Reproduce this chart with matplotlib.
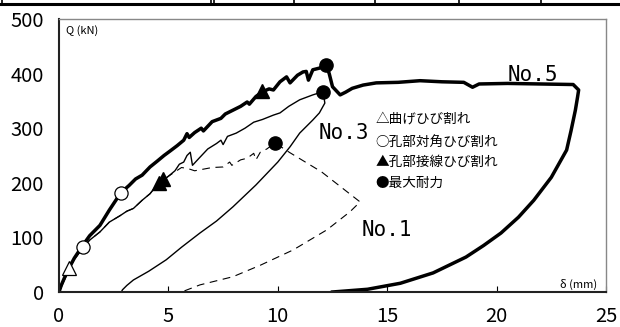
import matplotlib
matplotlib.use("Agg")
import matplotlib.pyplot as plt
from matplotlib.lines import Line2D

plt.rcParams['font.family'] = ['Noto Sans CJK JP', 'DejaVu Sans']

# ---- data ----
no5_x = [0, 0.1, 0.25, 0.46, 0.7, 1.08, 1.4, 1.87, 2.3, 2.83, 3.2, 3.5, 3.8, 4.16, 4.5, 4.8, 5.07,
         5.4, 5.7, 5.85, 5.95, 6.2, 6.5, 6.6, 7.0, 7.4, 7.6, 7.95, 8.3, 8.6, 8.7, 9.0, 9.27, 9.6,
         9.8, 10.1, 10.4, 10.56, 10.9, 11.15, 11.3, 11.4, 11.6, 11.9, 12.2, 12.35, 12.5, 12.85,
         13.1, 13.4, 13.9, 14.5, 15.5, 16.5, 17.5, 18.5, 18.9, 19.2, 20.5, 22.0, 23.5, 23.75,
         23.7, 23.6, 23.4, 23.2, 22.5, 21.7, 21.0, 20.2, 19.4, 18.6, 17.1, 15.6, 14.1, 12.5]
no5_y = [0, 12, 26, 44, 62, 85, 103, 122, 150, 182, 195, 207, 214, 229, 240, 250, 258,
         268, 278, 290, 283, 292, 300, 295, 312, 318, 326, 333, 340, 348, 344, 358, 366, 372,
         370, 385, 394, 383, 397, 403, 404, 388, 407, 410, 416, 400, 376, 361,
         366, 373, 379, 383, 384, 387, 385, 384, 375, 381, 382, 381, 380, 370,
         357, 333, 295, 260, 210, 168, 137, 108, 85, 64, 35, 16, 5, 0]

no3_x = [0, 0.2, 0.46, 0.7, 1.08, 1.4, 1.87, 2.3, 2.8, 3.1, 3.4, 3.8, 4.16, 4.4, 4.7, 5.0, 5.3,
         5.5, 5.7, 5.85, 6.0, 6.1, 6.4, 6.8, 7.2, 7.4, 7.5, 7.7, 8.1, 8.5, 8.9, 9.3, 9.8, 10.1,
         10.5, 11.0, 11.6, 12.07, 12.15, 11.9, 11.6, 11.0, 10.56, 10.0, 9.0, 7.95, 7.2, 6.44,
         5.6, 4.9, 4.1, 3.4, 3.1, 2.9, 2.85]
no3_y = [0, 18, 42, 60, 80, 95, 110, 128, 140, 148, 153, 168, 180, 192, 203, 212, 222,
         234, 238, 250, 256, 232, 245, 262, 272, 278, 270, 285, 291, 300, 311, 316, 324, 328,
         340, 352, 361, 367, 346, 328, 315, 291, 266, 238, 196, 156, 130, 108,
         82, 59, 38, 22, 12, 4, 0]

no1_x = [0, 0.2, 0.46, 0.7, 1.08, 1.4, 1.87, 2.3, 2.8, 3.1, 3.4, 3.8, 4.16, 4.4, 4.7, 5.0, 5.3,
         5.6, 5.9, 6.2, 6.6, 7.0, 7.5, 7.8, 7.9, 8.3, 8.6, 8.9, 9.0, 9.2, 9.5, 9.87, 10.56, 12.0,
         13.76, 13.3, 12.25, 10.7, 9.2, 7.95, 6.44, 5.6]
no1_y = [0, 18, 42, 60, 80, 95, 110, 128, 140, 148, 153, 168, 180, 192, 203, 212, 220,
         228, 226, 222, 225, 228, 229, 238, 232, 242, 245, 254, 242, 256, 262, 273, 255, 220,
         165, 147, 114, 77, 49, 28, 13, 0]

flex_crack_x = [0.46]
flex_crack_y = [44]
diag_crack_x = [1.08, 2.83]
diag_crack_y = [83, 182]
tangent_crack_x = [4.55, 4.75, 9.27]
tangent_crack_y = [200, 207, 368]
max_load_x = [9.87, 12.07, 12.2]
max_load_y = [273, 367, 416]

xticks = [0, 5, 10, 15, 20, 25]
yticks = [0, 100, 200, 300, 400, 500]
legend_labels = ['△曲げひび割れ', '○孔部対角ひび割れ', '▲孔部接線ひび割れ', '●最大耐力']

# ---- figure ----
fig = plt.figure(figsize=(6.2, 3.27), dpi=100)
ax = fig.add_axes([59/620, 35/327, (606-59)/620, (292-19)/327])

ax.plot(no1_x, no1_y, color='black', lw=0.8, ls=(0, (7, 5)))
ax.plot(no3_x, no3_y, color='black', lw=1.0)
ax.plot(no5_x, no5_y, color='black', lw=2.5, solid_joinstyle='round')

ms = 9.5
ax.plot(flex_crack_x, flex_crack_y, ls='none', marker='^', ms=ms, mfc='white', mec='black', mew=0.9)
ax.plot(diag_crack_x, diag_crack_y, ls='none', marker='o', ms=ms, mfc='white', mec='black', mew=0.9)
ax.plot(tangent_crack_x, tangent_crack_y, ls='none', marker='^', ms=ms, mfc='black', mec='black')
ax.plot(max_load_x, max_load_y, ls='none', marker='o', ms=ms, mfc='black', mec='black')

ax.set_xlim(0, 25)
ax.set_ylim(0, 500)
ax.set_xticks(xticks)
ax.set_yticks(yticks)
ax.tick_params(axis='x', direction='in', length=4, width=0.8, pad=10, labelsize=14.5)
ax.tick_params(axis='y', length=0, pad=11, labelsize=14.5)

for s in ['left', 'bottom']:
    ax.spines[s].set_color('#222222')
    ax.spines[s].set_linewidth(1.5)
for s in ['top', 'right']:
    ax.spines[s].set_color('#888888')
    ax.spines[s].set_linewidth(1.0)

# labels
ax.text(0.3, 488, 'Q (kN)', fontsize=8, ha='left', va='top')
ax.text(24.6, 14, 'δ (mm)', fontsize=8, ha='right', va='center')

ax.text(21.64, 397, 'No.5', family='DejaVu Sans Mono', fontsize=15, ha='center', va='center')
ax.text(13.0, 291, 'No.3', family='DejaVu Sans Mono', fontsize=15, ha='center', va='center')
ax.text(14.97, 113, 'No.1', family='DejaVu Sans Mono', fontsize=15, ha='center', va='center')

leg_y = [318, 275, 238, 200]
for lab, yy in zip(legend_labels, leg_y):
    ax.text(14.45, yy, lab, fontsize=9.8, ha='left', va='center')

# table remnant at the very top
fig.add_artist(Line2D([0.0, 1.0], [1 - 4/327, 1 - 4/327], color='black', lw=2.2,
                      transform=fig.transFigure))
for px in [2, 211, 214, 294, 375, 459, 541]:
    fig.add_artist(Line2D([px/620, px/620], [1 - 4/327, 1.0], color='black', lw=1.2,
                          transform=fig.transFigure))

fig.savefig('out.png', dpi=100)
